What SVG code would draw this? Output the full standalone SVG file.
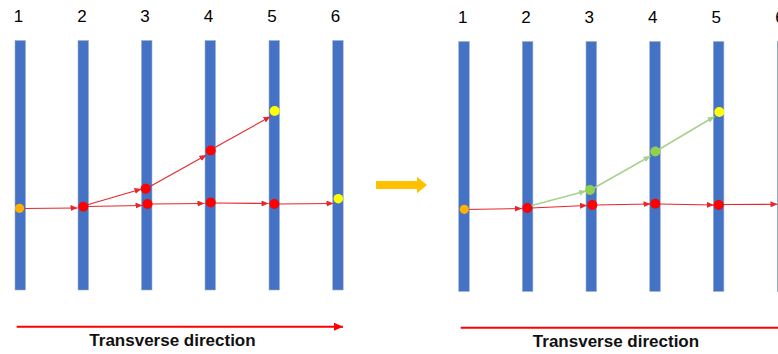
<svg xmlns="http://www.w3.org/2000/svg" width="778" height="354" viewBox="0 0 778 354">
<style>
.bar{fill:#4472C4;stroke:#9FB0CC;stroke-width:0.6}
.num{font-family:"Liberation Sans",Arial,sans-serif;font-size:17px;fill:#000;text-anchor:middle}
.cap{font-family:"Liberation Sans",Arial,sans-serif;font-size:17px;font-weight:bold;fill:#111;text-anchor:middle}
.r{stroke:#E8262B;stroke-width:1.1;fill:none;marker-end:url(#ar)}
.g{stroke:#A9D18E;stroke-width:1.6;fill:none;marker-end:url(#ag)}
.dr{fill:#FF0000}
.dy{fill:#FFFF00}
.do{fill:#FFB000}
.dg{fill:#92D050}
</style>
<defs>
<marker id="ar" markerUnits="userSpaceOnUse" markerWidth="8" markerHeight="6" refX="7" refY="3" orient="auto"><path d="M0,0 L7,3 L0,6 z" fill="#E8262B"/></marker>
<marker id="ag" markerUnits="userSpaceOnUse" markerWidth="8" markerHeight="6" refX="7" refY="3" orient="auto"><path d="M0,0 L7,3 L0,6 z" fill="#A9D18E"/></marker>
<marker id="abig" markerUnits="userSpaceOnUse" markerWidth="10" markerHeight="8" refX="9" refY="4" orient="auto"><path d="M0,0 L9,4 L0,8 z" fill="#FF0000"/></marker>
</defs>

<g id="left-bars">
<g id="L1"><text class="num" x="18.5" y="22">1</text><rect class="bar" x="15" y="40.5" width="10.5" height="249.5"/></g>
<g id="L2"><text class="num" x="82" y="22">2</text><rect class="bar" x="78" y="40.5" width="10.5" height="249.5"/></g>
<g id="L3"><text class="num" x="145" y="22">3</text><rect class="bar" x="141.5" y="40.5" width="10.5" height="249.5"/></g>
<g id="L4"><text class="num" x="208.5" y="22">4</text><rect class="bar" x="205" y="40.5" width="10.5" height="249.5"/></g>
<g id="L5"><text class="num" x="272" y="22">5</text><rect class="bar" x="269" y="40.5" width="10.5" height="249.5"/></g>
<g id="L6"><text class="num" x="335.5" y="22">6</text><rect class="bar" x="332.7" y="40.5" width="10.5" height="249.5"/></g>
</g>

<g id="right-bars">
<g id="R1"><text class="num" x="462.7" y="23.3">1</text><rect class="bar" x="458.7" y="41.5" width="10.6" height="250"/></g>
<g id="R2"><text class="num" x="526" y="23.3">2</text><rect class="bar" x="522.3" y="41.5" width="10.6" height="250"/></g>
<g id="R3"><text class="num" x="589.3" y="23.3">3</text><rect class="bar" x="586" y="41.5" width="10.6" height="250"/></g>
<g id="R4"><text class="num" x="652.7" y="23.3">4</text><rect class="bar" x="649.7" y="41.5" width="10.6" height="250"/></g>
<g id="R5"><text class="num" x="716.3" y="23.3">5</text><rect class="bar" x="713.3" y="41.5" width="10.6" height="250"/></g>
<g id="R6"><text class="num" x="780" y="23.3">6</text><rect class="bar" x="777.3" y="41.5" width="10.6" height="250"/></g>
</g>

<g id="connectors">
<line class="r" x1="21" y1="208.5" x2="77.5" y2="208"/>
<line class="r" x1="85" y1="205.5" x2="141.5" y2="189"/>
<line class="r" x1="86" y1="206.5" x2="142.5" y2="205.5"/>
<line class="r" x1="150" y1="186.5" x2="206.5" y2="155"/>
<line class="r" x1="151" y1="204" x2="204.5" y2="203.5"/>
<line class="r" x1="214" y1="148" x2="270.5" y2="116.5"/>
<line class="r" x1="214" y1="203" x2="268.5" y2="203.5"/>
<line class="r" x1="278" y1="204" x2="333.5" y2="203.5"/>
<line class="r" x1="465" y1="209.5" x2="522" y2="208.5"/>
<line class="g" x1="530" y1="206" x2="586" y2="191"/>
<line class="r" x1="531" y1="208" x2="587" y2="205.5"/>
<line class="g" x1="594" y1="188" x2="650.5" y2="156"/>
<line class="r" x1="596" y1="205" x2="650.5" y2="204"/>
<line class="g" x1="658" y1="150" x2="714.5" y2="116.5"/>
<line class="r" x1="659" y1="204" x2="714" y2="205"/>
<line class="r" x1="722" y1="204.5" x2="777.5" y2="204.3"/>
<line x1="16.7" y1="326.7" x2="343" y2="326.7" stroke="#FF0000" stroke-width="2" marker-end="url(#abig)"/>
<line x1="460.7" y1="327.7" x2="778" y2="327.7" stroke="#FF0000" stroke-width="2"/>
</g>

<g id="points-left">
<circle class="do" cx="19.5" cy="208.3" r="4.6"/>
<circle class="dr" cx="83.3" cy="206.7" r="5"/>
<circle class="dr" cx="145.7" cy="188.7" r="5"/>
<circle class="dr" cx="147.5" cy="204" r="5"/>
<circle class="dr" cx="210.7" cy="150.5" r="5"/>
<circle class="dr" cx="210.7" cy="202.5" r="5"/>
<circle class="dy" cx="274.7" cy="111" r="5"/>
<circle class="dr" cx="274.3" cy="204" r="5"/>
<circle class="dy" cx="338.3" cy="198.7" r="4.8"/>
</g>

<g id="points-right">
<circle class="do" cx="464.3" cy="209.3" r="4.6"/>
<circle class="dr" cx="527.3" cy="208" r="5"/>
<circle class="dg" cx="590" cy="190" r="5"/>
<circle class="dr" cx="592.3" cy="205" r="5"/>
<circle class="dg" cx="655.3" cy="151.5" r="5"/>
<circle class="dr" cx="655.3" cy="203.7" r="5"/>
<circle class="dy" cx="719.3" cy="112" r="5"/>
<circle class="dr" cx="718.7" cy="205" r="5"/>
</g>

<g id="transition-arrow">
<path d="M376,181 L417,181 L417,176.7 L427,185 L417,193.3 L417,189 L376,189 z" fill="#FFC000"/>
</g>

<g id="captions">
<text class="cap" x="172.5" y="346">Transverse direction</text>
<text class="cap" x="616" y="347">Transverse direction</text>
</g>
</svg>
